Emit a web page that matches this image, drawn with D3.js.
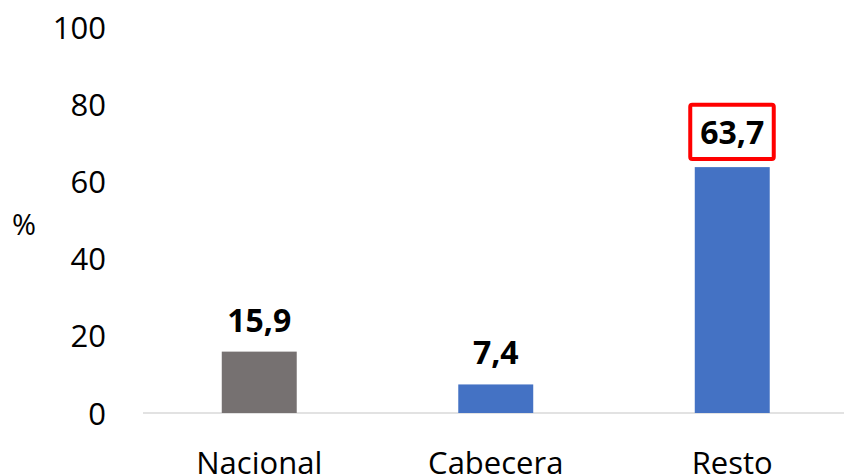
<!DOCTYPE html>
<html>
<head>
<meta charset="utf-8">
<script src="https://cdn.jsdelivr.net/npm/d3@7"></script>
<style>
  html, body { margin: 0; padding: 0; background: #fff; }
  svg { display: block; }
  text { font-family: "Open Sans", "Liberation Sans", sans-serif; fill: #000; }
</style>
</head>
<body>
<div id="chart"></div>
<script>
// chart data
const categories = ['Nacional', 'Cabecera', 'Resto'];
const values = [15.9, 7.4, 63.7];
const barColors = ['#767171', '#4472C4', '#4472C4'];
const yTicks = [0, 20, 40, 60, 80, 100];
const highlighted = ['Resto'];

const width = 844, height = 476;
const fmt = v => v.toFixed(1).replace('.', ',');

const svg = d3.select('#chart')
    .append('svg')
    .attr('width', width)
    .attr('height', height);

const x = d3.scaleBand()
    .domain(categories)
    .range([141, 850.5])
    .paddingInner(0.683)
    .paddingOuter(0.3415);

const y = d3.scaleLinear()
    .domain([0, 100])
    .range([413, 27]);

// y axis labels (no line, no ticks)
const yAxis = svg.append('g')
    .attr('transform', 'translate(106,0)')
    .call(d3.axisLeft(y).tickValues(yTicks).tickSize(0).tickPadding(0));
yAxis.select('.domain').remove();
yAxis.selectAll('text')
    .attr('dy', '0.36em')
    .style('font-size', '31px')
    .style('font-family', '"Open Sans", sans-serif')
    .attr('fill', '#000');

// unit label
svg.append('text')
    .attr('x', 12)
    .attr('y', 235)
    .style('font-size', '29px')
    .text('%');

// baseline
svg.append('line')
    .attr('x1', 143)
    .attr('x2', width)
    .attr('y1', y(0))
    .attr('y2', y(0))
    .attr('stroke', '#d9d9d9')
    .attr('stroke-width', 1.5);

// bars
svg.selectAll('.bar')
    .data(categories)
    .enter()
    .append('rect')
    .attr('class', 'bar')
    .attr('x', d => x(d))
    .attr('width', x.bandwidth())
    .attr('y', (d, i) => y(values[i]))
    .attr('height', (d, i) => y(0) - y(values[i]))
    .attr('fill', (d, i) => barColors[i]);

// value labels
svg.selectAll('.label')
    .data(categories)
    .enter()
    .append('text')
    .attr('class', 'label')
    .attr('x', d => x(d) + x.bandwidth() / 2)
    .attr('y', (d, i) => y(values[i]) - (highlighted.includes(d) ? 23 : 20))
    .attr('text-anchor', 'middle')
    .style('font-size', '32px')
    .style('font-weight', 'bold')
    .text((d, i) => fmt(values[i]));

// red box round the highlighted value
highlighted.forEach(cat => {
    const i = categories.indexOf(cat);
    const cx = x(cat) + x.bandwidth() / 2;
    const base = y(values[i]) - 23;
    svg.append('rect')
        .attr('x', cx - 42)
        .attr('y', base - 39.3)
        .attr('width', 83.5)
        .attr('height', 54.3)
        .attr('rx', 2)
        .attr('fill', 'none')
        .attr('stroke', '#FF0000')
        .attr('stroke-width', 4);
});

// category labels
svg.selectAll('.cat')
    .data(categories)
    .enter()
    .append('text')
    .attr('class', 'cat')
    .attr('x', d => x(d) + x.bandwidth() / 2)
    .attr('y', 474)
    .attr('text-anchor', 'middle')
    .style('font-size', '31px')
    .text(d => d);
</script>
</body>
</html>
